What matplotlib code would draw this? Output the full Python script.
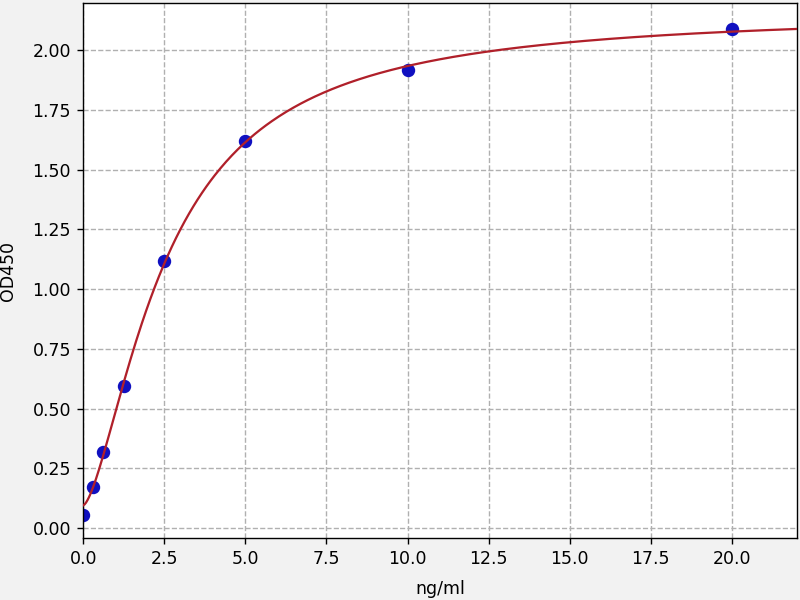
import numpy as np
import matplotlib
matplotlib.use("Agg")
import matplotlib.pyplot as plt

# standard concentrations and measured OD
conc = [0, 0.3125, 0.625, 1.25, 2.5, 5, 10, 20]
od450 = [0.055, 0.172, 0.318, 0.594, 1.117, 1.619, 1.916, 2.088]


def four_pl(x, a, b, c, d):
    return d + (a - d) / (1 + (np.maximum(x, 0) / c) ** b)


# fit 4PL to the standards (small Levenberg-Marquardt, no scipy needed)
x = np.array(conc, dtype=float)[1:]
y = np.array(od450, dtype=float)[1:]
p = np.array([0.05, 1.5, 2.5, 2.2])
lam = 1e-2
for _ in range(500):
    r = y - four_pl(x, *p)
    J = np.zeros((len(x), 4))
    for k in range(4):
        dp = np.zeros(4)
        dp[k] = 1e-6 * max(abs(p[k]), 1)
        J[:, k] = (four_pl(x, *(p + dp)) - four_pl(x, *p)) / dp[k]
    A = J.T @ J
    step = np.linalg.solve(A + lam * np.diag(np.diag(A)), J.T @ r)
    new_p = p + step
    if np.sum((y - four_pl(x, *new_p)) ** 2) < np.sum(r ** 2):
        p = new_p
        lam *= 0.5
    else:
        lam *= 3

fig = plt.figure(figsize=(6.4, 4.8), dpi=125, facecolor="#f2f2f2")
ax = fig.add_axes([0.104, 0.103, 0.892, 0.892])

xs = np.linspace(0, 22, 500)
ax.scatter(conc, od450, s=45, color="#1010c0", zorder=2)
ax.plot(xs, four_pl(xs, *p), color="#b0202a", lw=1.3, zorder=3)

ax.set_xlim(0, 22)
ax.set_ylim(-0.042, 2.197)
ax.set_xticks(np.arange(0, 22.5, 2.5))
ax.set_yticks(np.arange(0, 2.01, 0.25))
ax.grid(True, linestyle="--", color="#b0b0b0", lw=0.8)
ax.set_axisbelow(True)
ax.set_xlabel("ng/ml", labelpad=6.5)
ax.set_ylabel("OD450", labelpad=9)

fig.savefig("out.png", dpi=125, facecolor=fig.get_facecolor())
